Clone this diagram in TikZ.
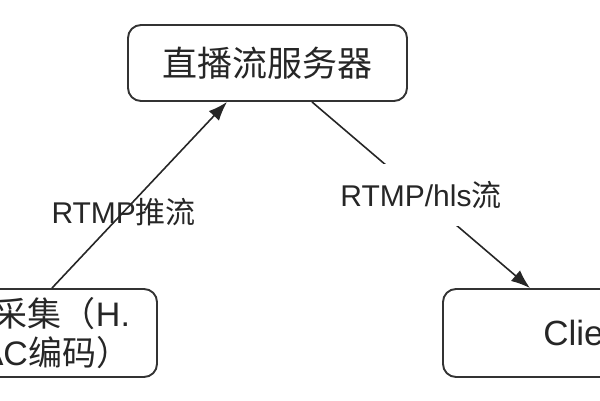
\documentclass[tikz,border=0pt]{standalone}
\usepackage{fontspec}
\setmainfont{Liberation Sans}
\newfontfamily\cjk{Noto Sans CJK SC}
\usetikzlibrary{arrows.meta}
\begin{document}
\begin{tikzpicture}[x=1pt,y=-1pt,line join=round,
    box/.style={draw=black!80,line width=1.9pt,rounded corners=13pt,minimum height=76pt,text=black!85,font=\fontsize{35}{40}\selectfont},
    lbl/.style={text=black!85,font=\fontsize{30}{34}\selectfont,inner sep=0pt},
    link/.style={draw=black!85,line width=1.6pt,-{Latex[length=19pt,width=14pt]}}]
    \clip (0,0) rectangle (600,400);
    \node[box,minimum width=279pt] (server) at (267.5,63) {{\cjk 直播流服务器}};
    \node[box,minimum width=254pt,minimum height=88pt] (capture) at (30,333) {};
    \node[text=black!85,font=\fontsize{34}{39}\selectfont,align=center] (captext) at (11,333) {{\cjk 音视频采集（}H.\\264/AAC{\cjk 编码）}};
    \node[box,minimum width=290pt,minimum height=88pt] (client) at (588,333) {Client};
    \draw[link] ([xshift=22pt]capture.north) -- node[lbl,pos=0.41] (push) {RTMP{\cjk 推流}} ([xshift=-40.5pt]server.south);
    \draw[link] ([xshift=44.5pt]server.south) -- node[lbl,fill=white,inner ysep=17pt,inner xsep=2pt] (pull) {RTMP/hls{\cjk 流}} ([xshift=-58pt]client.north);
\end{tikzpicture}
\end{document}
